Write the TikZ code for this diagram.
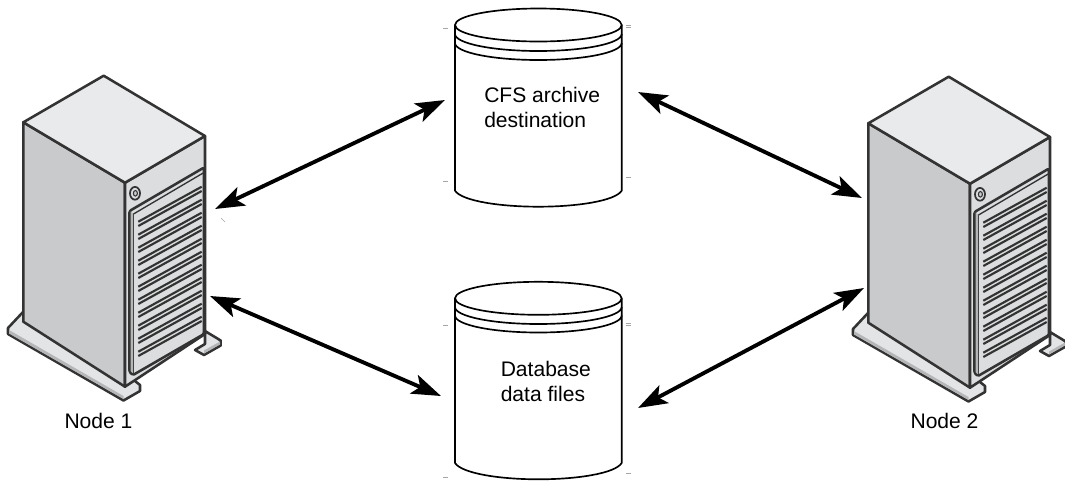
\documentclass[tikz,border=0pt]{standalone}
\usepackage{fontspec}
\setmainfont{Liberation Sans}
\usetikzlibrary{arrows.meta}
\definecolor{sline}{HTML}{333333}
\definecolor{sside}{HTML}{C9CACC}
\definecolor{stop}{HTML}{E9EAEB}
\definecolor{sfront}{HTML}{DCDDDF}
\definecolor{sbase}{HTML}{E3E4E5}
\definecolor{sstrip}{HTML}{B5B6B8}
\tikzset{
  x=0.75pt,y=-0.75pt,
  edge/.style={draw=sline,line width=1.9pt,line join=round},
  thin edge/.style={draw=sline,line width=1pt,line join=round},
  slat/.style={draw=sline,line width=1.6pt},
  label/.style={font=\fontsize{15.8}{18.75}\selectfont,text=black,align=left,inner sep=0pt},
  link/.style={line width=2.9pt,black,{Stealth[length=22pt,width=15pt,inset=5pt]}-{Stealth[length=22pt,width=15pt,inset=5pt]}},
  drum/.style={draw=black,line width=1.25pt,fill=white,line join=round},
  tick/.style={draw=black!35,line width=0.4pt},
  pics/server/.style={code={
    % base plate
    \path[edge,fill=sbase] (8,328) -- (23,312) -- (135,381) -- (140,385) -- (140,391) -- (123.5,400.5) -- (8,334) -- cycle;
    \path[fill=sstrip] (9,330) -- (123.5,396) -- (123.5,399) -- (9,333.5) -- cycle;
    \path[edge,fill=sbase] (205,331) -- (220.7,340.5) -- (220.7,345.5) -- (204,355) -- (195,350) -- (205,344) -- cycle;
    \path[fill=sstrip] (204,350.5) -- (220,341.5) -- (220,344.5) -- (204,353.5) -- cycle;
    % body
    \path[edge,fill=sside] (23.3,122.3) -- (125,182.7) -- (125,386.7) -- (23.3,321.7) -- cycle;
    \path[edge,fill=sfront] (125,182.7) -- (205,136) -- (205,334) -- (125,386.7) -- cycle;
    \path[edge,fill=stop] (103.7,75.7) -- (205,136) -- (125,182.7) -- (23.3,122.3) -- cycle;
    \path[draw=sline,line width=1.3pt,fill=sfront] (135,193.3) ellipse[x radius=5,y radius=6.4];
    \path[draw=sline,line width=0.8pt,fill=sside] (135.4,193.3) ellipse[x radius=2,y radius=2.8];
    % door
    \path[edge,fill=sfront,rounded corners=1pt] (129.5,211) -- (204,167.5) -- (204,334) -- (133,375) -- (129.5,372) -- cycle;
    \path[thin edge] (133.5,214) -- (204,172.5);
    \path[thin edge] (133.5,214) -- (133.5,373);
    \path[fill=sstrip] (130.5,211.5) -- (133,213.5) -- (133,373) -- (130.5,371) -- cycle;
    \foreach \i in {0,...,10}{
      \path[slat] (138.3,221.7+\i*13) -- (201.7,186.7+\i*13);
      \path[slat] (138.3,226+\i*13) -- (201.7,191+\i*13);
    }
  }},
}
\begin{document}
\begin{tikzpicture}
\useasboundingbox[fill=white] (0,0) rectangle (1065,480);
\clip (0,0) rectangle (1065,480);

% servers
\pic at (0,0) {server};
\pic at (845,1) {server};
\node[label] (node1) at (98.5,421) {Node 1};
\node[label] (node2) at (944.5,421) {Node 2};

% top cylinder
\path[drum] (455,25) -- (455,190.7) .. controls (462,201) and (500,206.7) .. (538.3,206.7) .. controls (577,206.7) and (615,201) .. (621.7,190.7) -- (621.7,25) -- cycle;
\path[drum,fill=none] (455,34) arc[start angle=180,end angle=0,x radius=83.35,y radius=17];
\path[drum,fill=none] (455,43) arc[start angle=180,end angle=0,x radius=83.35,y radius=17];
\path[drum] (538.35,25) ellipse[x radius=83.35,y radius=16.5];
% bottom cylinder
\path[drum] (455,298.3) -- (455,463) .. controls (462,473.5) and (500,479.3) .. (538.3,479.3) .. controls (577,479.3) and (615,473.5) .. (621.7,463) -- (621.7,298.3) -- cycle;
\path[drum,fill=none] (455,307) arc[start angle=180,end angle=0,x radius=83.35,y radius=17];
\path[drum,fill=none] (455,315.5) arc[start angle=180,end angle=0,x radius=83.35,y radius=17];
\path[drum] (538.35,298.3) ellipse[x radius=83.35,y radius=16.5];

\node[label,anchor=west] (cfs) at (484,107) {CFS archive\\destination};
\node[label,anchor=west] (db) at (500.5,381) {Database\\data files};

% stray ticks
\foreach \a/\b in {443/28,626/25.5,626/27.5,443/181,626/177,443/325,626/323,626/325,443/477,626/473}
  \draw[tick] (\a,\b) -- ++(4.5,0);
\draw[tick] (221,218) -- (225,222);

% connectors
\coordinate (a1) at (215,209);
\coordinate (a2) at (445,100);
\coordinate (b1) at (638,92);
\coordinate (b2) at (862,198);
\coordinate (c1) at (210,296);
\coordinate (c2) at (441,396);
\coordinate (d1) at (638,408);
\coordinate (d2) at (864,288);
\draw[link] (a1) -- (a2);
\draw[link] (b1) -- (b2);
\draw[link] (c1) -- (c2);
\draw[link] (d1) -- (d2);
\end{tikzpicture}
\end{document}
